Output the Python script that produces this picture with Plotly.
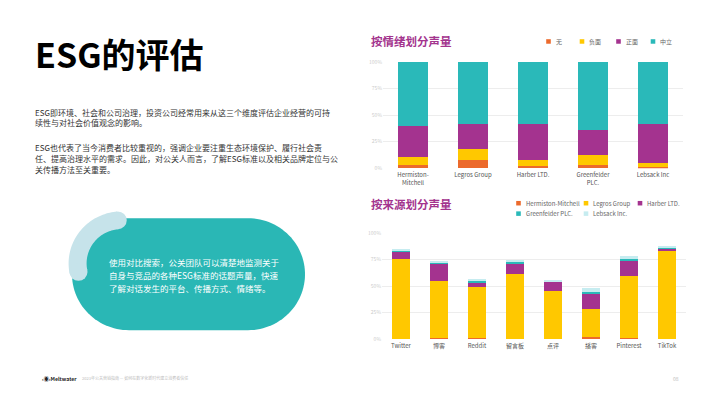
import numpy as np
import plotly.graph_objects as go

# The page body adds an 8px margin; lay the figure out in window pixels and offset for it.
OFF = 8
W, H = 710 - OFF, 399 - OFF
FONT = "Noto Sans CJK SC, Noto Sans, sans-serif"

# ---------------- data ----------------
companies = ["Hermiston-Mitchell", "Legros Group", "Harber LTD.", "Greenfelder PLC.", "Lebsack Inc"]
company_ticks = ["Hermiston-<br>Mitchell", "Legros Group", "Harber LTD.", "Greenfelder<br>PLC.", "Lebsack Inc"]
sentiments = ["无", "负面", "正面", "中立"]
sent_none = [3.4, 7.7, 1.9, 2.5, 1.2]
sent_neg = [6.8, 9.9, 5.8, 9.5, 3.4]
sent_pos = [30.0, 24.4, 34.3, 23.5, 37.4]
sent_neu = [59.8, 58.0, 58.0, 64.5, 58.0]

sources = ["Twitter", "博客", "Reddit", "留言板", "点评", "播客", "Pinterest", "TikTok"]
src_names = ["Hermiston-Mitchell", "Legros Group", "Harber LTD.", "Greenfelder PLC.", "Lebsack Inc."]
src_hm = [0.0, 0.8, 0.8, 0.0, 0.0, 2.2, 0.8, 0.0]
src_legros = [75.9, 54.1, 48.6, 61.4, 45.7, 25.9, 58.8, 82.7]
src_harber = [6.2, 16.7, 4.0, 9.6, 8.3, 13.9, 13.9, 2.8]
src_green = [1.2, 0.9, 1.8, 2.1, 0.3, 2.8, 2.4, 0.3]
src_lebsack = [1.6, 1.0, 1.0, 0.9, 1.6, 3.3, 2.8, 1.9]

y_tickvals = [0, 25, 50, 75, 100]
y_ticktext = ["0%", "25%", "50%", "75%", "100%"]

# ---------------- styles ----------------
ORANGE = "#EC6A2C"
YELLOW = "#FFC800"
PURPLE = "#A4338F"
TEAL = "#2AB9B9"
LIGHT = "#C6ECF0"
sent_colors = [ORANGE, YELLOW, PURPLE, TEAL]
src_colors = [ORANGE, YELLOW, PURPLE, TEAL, LIGHT]


def px(x):
    return (x - OFF) / W


def py(y):
    return 1 - (y - OFF) / H


fig = go.Figure()

for name, vals, col in zip(sentiments, [sent_none, sent_neg, sent_pos, sent_neu], sent_colors):
    fig.add_trace(go.Bar(x=companies, y=vals, name=name, marker=dict(color=col, line=dict(width=0)),
                         width=0.5, xaxis="x", yaxis="y", showlegend=False))

for name, vals, col in zip(src_names, [src_hm, src_legros, src_harber, src_green, src_lebsack], src_colors):
    fig.add_trace(go.Bar(x=sources, y=vals, name=name, marker=dict(color=col, line=dict(width=0)),
                         width=0.48, xaxis="x2", yaxis="y2", showlegend=False))

axis_common_y = dict(range=[0, 100], tickvals=y_tickvals, ticktext=y_ticktext, showgrid=True,
                     gridcolor="#EDEDED", gridwidth=0.8, zeroline=False, showline=False, ticks="",
                     tickfont=dict(size=5, color="#CCCCCC", family=FONT), fixedrange=True)
axis_common_x = dict(showgrid=False, zeroline=False, showline=False, ticks="",
                     tickfont=dict(size=6, color="#555555", family=FONT), fixedrange=True)

fig.update_layout(
    width=W, height=H, margin=dict(l=0, r=0, t=0, b=0),
    paper_bgcolor="white", plot_bgcolor="rgba(0,0,0,0)",
    barmode="stack", showlegend=False,
    font=dict(family=FONT),
    xaxis=dict(domain=[px(383), px(683)], anchor="y", tickvals=companies, ticktext=company_ticks,
               ticklabelstandoff=2, **axis_common_x),
    yaxis=dict(domain=[py(167), py(59)], anchor="x", **axis_common_y),
    xaxis2=dict(domain=[px(382), px(686)], anchor="y2", ticklabelstandoff=2, **axis_common_x),
    yaxis2=dict(domain=[py(341), py(233)], anchor="x2", **axis_common_y),
)

shapes = []


def path_from(points):
    return "M " + " L ".join(f"{px(x):.5f},{py(y):.5f}" for x, y in points) + " Z"


# teal capsule
cap_l, cap_r, cap_t, cap_b = 72, 305, 218, 332
rr = (cap_b - cap_t) / 2
cyc = (cap_t + cap_b) / 2
lc, rcx = cap_l + rr, cap_r - rr
pts = []
for a in np.linspace(np.pi / 2, 3 * np.pi / 2, 60):
    pts.append((lc + rr * np.cos(a), cyc - rr * np.sin(a)))
for a in np.linspace(3 * np.pi / 2, 5 * np.pi / 2, 60):
    pts.append((rcx + rr * np.cos(a), cyc - rr * np.sin(a)))
shapes.append(dict(type="path", xref="paper", yref="paper", path=path_from(pts),
                   fillcolor="#2AB7B5", line=dict(width=0), layer="below"))

# light decorative arc over the capsule's upper-left corner
acx, acy, r_in, r_out = 121.6, 264.0, 35.0, 53.0
a0, a1 = 95.0, 191.5
angs = np.linspace(np.radians(a0), np.radians(a1), 50)
outer = [(acx + r_out * np.cos(a), acy - r_out * np.sin(a)) for a in angs]
inner = [(acx + r_in * np.cos(a), acy - r_in * np.sin(a)) for a in angs[::-1]]
ARC = "#C6E3EA"
shapes.append(dict(type="path", xref="paper", yref="paper", path=path_from(outer + inner),
                   fillcolor=ARC, line=dict(width=0), layer="below"))
rc = (r_out - r_in) / 2
rm = (r_out + r_in) / 2
for a in [np.radians(a0), np.radians(a1)]:
    cx, cy = acx + rm * np.cos(a), acy - rm * np.sin(a)
    shapes.append(dict(type="circle", xref="paper", yref="paper", x0=px(cx - rc), x1=px(cx + rc),
                       y0=py(cy + rc), y1=py(cy - rc), fillcolor=ARC, line=dict(width=0), layer="below"))

annotations = []


def text(x, y, s, size, color, anchor="left", bold=False):
    annotations.append(dict(x=px(x), y=py(y), xref="paper", yref="paper", xanchor=anchor, yanchor="middle",
                            text=f"<b>{s}</b>" if bold else s, showarrow=False,
                            font=dict(size=size, color=color, family=FONT)))


# legends (built from series names / colours)
sq = 2.3
top_leg_x = [548.5, 582, 618.5, 653]
for name, col, xx in zip(sentiments, sent_colors, top_leg_x):
    shapes.append(dict(type="rect", xref="paper", yref="paper", x0=px(xx - sq), x1=px(xx + sq),
                       y0=py(38 + sq), y1=py(38 - sq), fillcolor=col, line=dict(width=0)))
    text(xx + 5, 38, name, 6, "#666666")

bot_leg_pos = [(518.5, 202.7), (586, 202.7), (640, 202.7), (518.5, 213.3), (586, 213.3)]
for name, col, (xx, yy) in zip(src_names, src_colors, bot_leg_pos):
    shapes.append(dict(type="rect", xref="paper", yref="paper", x0=px(xx - sq), x1=px(xx + sq),
                       y0=py(yy + sq), y1=py(yy - sq), fillcolor=col, line=dict(width=0)))
    text(xx + 5, yy, name, 6, "#666666")

# titles
text(369, 38, "按情绪划分声量", 11.5, "#A3348E", bold=True)
text(369, 203, "按来源划分声量", 11.5, "#A3348E", bold=True)
text(33, 50, "ESG的评估", 34, "#000000", bold=True)

p1 = ["ESG即环境、社会和公司治理，投资公司经常用来从这三个维度评估企业经营的可持",
      "续性与对社会价值观念的影响。"]
p2 = ["ESG也代表了当今消费者比较重视的，强调企业要注重生态环境保护、履行社会责",
      "任、提高治理水平的需求。因此，对公关人而言，了解ESG标准以及相关品牌定位与公",
      "关传播方法至关重要。"]
for i, s in enumerate(p1):
    text(33, 110 + i * 11, s, 8, "#333333")
for i, s in enumerate(p2):
    text(33, 146 + i * 11, s, 8, "#333333")

cap_txt = ["使用对比搜索，公关团队可以清楚地监测关于",
           "自身与竞品的各种ESG标准的话题声量，快速",
           "了解对话发生的平台、传播方式、情绪等。"]
for i, s in enumerate(cap_txt):
    text(107, 263 + i * 13, s, 8.5, "#FFFFFF")

# footer
text(40, 381, "‹◉›Meltwater", 5.2, "#222222", bold=True)
text(80, 381, "2023年公关营销指南 — 如何在数字化新时代建立消费者信任", 4, "#BBBBBB")
text(676, 381, "08", 5, "#BBBBBB", anchor="center")

fig.update_layout(shapes=shapes, annotations=annotations)
fig.write_html("out.html")
